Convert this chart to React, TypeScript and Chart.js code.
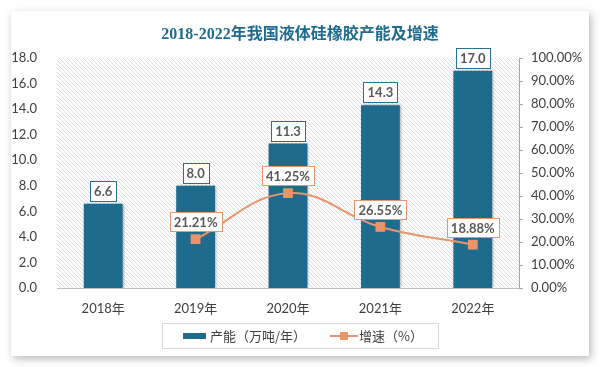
import React, { useEffect, useRef } from "react";
import { Chart, registerables } from "chart.js";

Chart.register(...registerables);

const categories = ["2018年", "2019年", "2020年", "2021年", "2022年"];
const capacity = [6.6, 8.0, 11.3, 14.3, 17.0];
const growth: (number | null)[] = [null, 21.21, 41.25, 26.55, 18.88];
const titleText = "2018-2022年我国液体硅橡胶产能及增速";
const legendBar = "产能（万吨/年）";
const legendLine = "增速（%）";

const BAR_COLOR = "#1f6b8e";
const LINE_COLOR = "#e9956b";
const TICK_FONT = { family: "Lato, 'Noto Sans CJK SC', sans-serif", size: 13 };
const LABEL_FONT = "bold 13px Lato, 'Noto Sans CJK SC', sans-serif";

const decorPlugin = {
  id: "decor",
  beforeDraw(chart: any) {
    const ctx = chart.ctx;
    const { left, top, right, bottom } = chart.chartArea;
    ctx.save();
    ctx.fillStyle = "#ffffff";
    ctx.fillRect(0, 0, chart.width, chart.height);
    ctx.shadowColor = "rgba(0,0,0,0.28)";
    ctx.shadowBlur = 8;
    ctx.shadowOffsetX = 2;
    ctx.shadowOffsetY = 3;
    ctx.fillRect(11, 11, 578, 345);
    ctx.restore();
    // hatch
    ctx.save();
    ctx.beginPath();
    ctx.rect(left, top, right - left, bottom - top);
    ctx.clip();
    ctx.strokeStyle = "#dedede";
    ctx.lineWidth = 1;
    const h = bottom - top;
    ctx.beginPath();
    for (let k = -h; k < right - left; k += 4) {
      ctx.moveTo(left + k, top);
      ctx.lineTo(left + k + h, bottom);
    }
    ctx.stroke();
    ctx.restore();
  },
  beforeDatasetDraw(chart: any, args: any) {
    const ctx = chart.ctx;
    ctx.save();
    if (args.meta.type === "bar") {
      ctx.shadowColor = "rgba(0,0,0,0.4)";
      ctx.shadowBlur = 3;
      ctx.shadowOffsetX = 1;
      ctx.shadowOffsetY = 0;
    }
  },
  afterDatasetDraw(chart: any) {
    chart.ctx.restore();
  },
  afterDatasetsDraw(chart: any) {
    const ctx = chart.ctx;
    const drawBox = (x: number, bottomY: number, text: string, border: string, h: number) => {
      ctx.font = LABEL_FONT;
      const w = Math.round(ctx.measureText(text).width + 8);
      const bx = Math.round(x - w / 2) + 0.5;
      const by = Math.round(bottomY - h) + 0.5;
      ctx.fillStyle = "#ffffff";
      ctx.fillRect(bx, by, w, h);
      ctx.strokeStyle = border;
      ctx.lineWidth = 1;
      ctx.strokeRect(bx, by, w, h);
      ctx.fillStyle = "#595959";
      ctx.textAlign = "center";
      ctx.textBaseline = "middle";
      ctx.fillText(text, x, by + h / 2 + 0.5);
    };
    ctx.save();
    chart.data.datasets.forEach((ds: any, i: number) => {
      const meta = chart.getDatasetMeta(i);
      meta.data.forEach((el: any, j: number) => {
        const v = ds.data[j];
        if (v === null || v === undefined) return;
        if (meta.type === "bar") {
          drawBox(el.x, el.y - 3, v.toFixed(1), "#2b6f93", 20);
        }
      });
    });
    chart.data.datasets.forEach((ds: any, i: number) => {
      const meta = chart.getDatasetMeta(i);
      meta.data.forEach((el: any, j: number) => {
        const v = ds.data[j];
        if (v === null || v === undefined) return;
        if (meta.type === "line") {
          drawBox(el.x, el.y - 8, v.toFixed(2) + "%", LINE_COLOR, 19);
        }
      });
    });
    ctx.restore();
  },
  afterDraw(chart: any) {
    const ctx = chart.ctx;
    ctx.save();
    // title
    ctx.font = "bold 16px 'Liberation Serif', 'Noto Sans CJK SC', serif";
    ctx.fillStyle = "#1f6b8e";
    ctx.textAlign = "center";
    ctx.textBaseline = "middle";
    ctx.fillText(titleText, 300, 35);
    // legend box
    ctx.strokeStyle = "#d9d9d9";
    ctx.lineWidth = 1;
    ctx.strokeRect(162.5, 323.5, 276, 25);
    ctx.fillStyle = BAR_COLOR;
    ctx.fillRect(183, 333, 23, 6);
    ctx.font = "13px 'Noto Sans CJK SC', sans-serif";
    ctx.fillStyle = "#404040";
    ctx.textAlign = "left";
    ctx.fillText(legendBar, 210, 336);
    ctx.strokeStyle = LINE_COLOR;
    ctx.lineWidth = 2;
    ctx.beginPath();
    ctx.moveTo(330, 336);
    ctx.lineTo(358, 336);
    ctx.stroke();
    ctx.fillStyle = LINE_COLOR;
    ctx.fillRect(340, 332, 8, 8);
    ctx.fillStyle = "#404040";
    ctx.fillText(legendLine, 359, 336);
    ctx.restore();
  },
};

export default function App() {
  const ref = useRef<HTMLCanvasElement | null>(null);
  useEffect(() => {
    document.body.style.margin = "0";
    if (!ref.current) return;
    const chart = new Chart(ref.current, {
      type: "bar",
      data: {
        labels: categories,
        datasets: [
          {
            type: "line",
            label: legendLine,
            data: growth,
            yAxisID: "y1",
            borderColor: LINE_COLOR,
            backgroundColor: LINE_COLOR,
            borderWidth: 2,
            tension: 0.4,
            pointStyle: "rect",
            pointRadius: 5.5,
            pointBackgroundColor: LINE_COLOR,
            pointBorderColor: LINE_COLOR,
            order: 0,
          } as any,
          {
            type: "bar",
            label: legendBar,
            data: capacity,
            yAxisID: "y",
            backgroundColor: BAR_COLOR,
            categoryPercentage: 1,
            barPercentage: 0.42,
            order: 1,
          } as any,
        ],
      },
      options: {
        animation: false,
        responsive: false,
        devicePixelRatio: 1,
        layout: { padding: { left: 11, right: 11, top: 58, bottom: 49 } },
        plugins: { legend: { display: false }, title: { display: false }, tooltip: { enabled: false } },
        scales: {
          x: {
            grid: { display: false },
            border: { display: true, color: "#bfbfbf" },
            ticks: { font: TICK_FONT, color: "#404040", padding: 5 },
            afterFit: (s: any) => { s.height = 30; },
          },
          y: {
            position: "left",
            min: 0,
            max: 18,
            grid: { display: false },
            border: { display: false },
            ticks: { stepSize: 2, font: TICK_FONT, color: "#404040", padding: 12, callback: (v: any) => Number(v).toFixed(1) },
            afterFit: (s: any) => { s.width = 46; },
          },
          y1: {
            position: "right",
            min: 0,
            max: 100,
            grid: { display: true, drawOnChartArea: false, tickLength: 4, color: "#a6a6a6" },
            border: { display: true, color: "#a6a6a6" },
            ticks: { stepSize: 10, font: TICK_FONT, color: "#404040", padding: 8, callback: (v: any) => Number(v).toFixed(2) + "%" },
            afterFit: (s: any) => { s.width = 70; },
          },
        },
      } as any,
      plugins: [decorPlugin],
    });
    return () => chart.destroy();
  }, []);
  return (
    <div style={{ position: "absolute", left: 0, top: 0, width: 600, height: 367 }}>
      <canvas ref={ref} width={600} height={367} style={{ width: 600, height: 367, display: "block" }} />
    </div>
  );
}
